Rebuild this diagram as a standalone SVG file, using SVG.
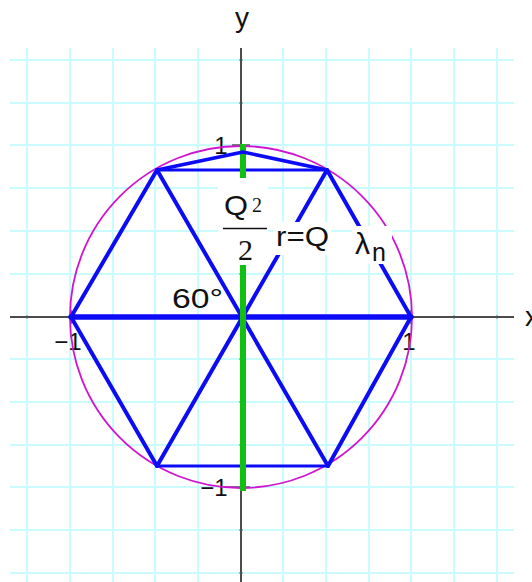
<svg xmlns="http://www.w3.org/2000/svg" width="532" height="582" viewBox="0 0 532 582">
<style>
.grid line{stroke:#c8fcff;stroke-width:2}
.axis{stroke:#111;stroke-width:1.5}
.tick{stroke:#555;stroke-width:1.5}
.hex{stroke:#0b0bf5;fill:none;stroke-linecap:round;stroke-linejoin:round}
.t{font-family:"Liberation Sans",Arial,sans-serif;fill:#111}
.s{font-family:"Liberation Serif","Times New Roman",serif;fill:#111}
.bg{fill:#fff}
</style>
<rect width="532" height="582" fill="#fff"/>
<g class="grid" id="grid">
<line x1="27" y1="48" x2="27" y2="582"/><line x1="70" y1="48" x2="70" y2="582"/><line x1="113" y1="48" x2="113" y2="582"/><line x1="155" y1="48" x2="155" y2="582"/><line x1="198" y1="48" x2="198" y2="582"/><line x1="283" y1="48" x2="283" y2="582"/><line x1="326" y1="48" x2="326" y2="582"/><line x1="369" y1="48" x2="369" y2="582"/><line x1="411" y1="48" x2="411" y2="582"/><line x1="454" y1="48" x2="454" y2="582"/><line x1="497" y1="48" x2="497" y2="582"/>
<line x1="10" y1="60" x2="514" y2="60"/><line x1="10" y1="103" x2="514" y2="103"/><line x1="10" y1="145" x2="514" y2="145"/><line x1="10" y1="188" x2="514" y2="188"/><line x1="10" y1="231" x2="514" y2="231"/><line x1="10" y1="274" x2="514" y2="274"/><line x1="10" y1="359" x2="514" y2="359"/><line x1="10" y1="402" x2="514" y2="402"/><line x1="10" y1="445" x2="514" y2="445"/><line x1="10" y1="487" x2="514" y2="487"/><line x1="10" y1="530" x2="514" y2="530"/><line x1="10" y1="573" x2="514" y2="573"/>
</g>
<g id="axes">
<line class="axis" x1="10" y1="317" x2="514" y2="317"/>
<line class="axis" x1="241" y1="48" x2="241" y2="582"/>
<g class="tick">
<line x1="27" y1="315.5" x2="27" y2="318.5"/><line x1="113" y1="315.5" x2="113" y2="318.5"/><line x1="155" y1="315.5" x2="155" y2="318.5"/><line x1="198" y1="315.5" x2="198" y2="318.5"/><line x1="283" y1="315.5" x2="283" y2="318.5"/><line x1="326" y1="315.5" x2="326" y2="318.5"/><line x1="369" y1="315.5" x2="369" y2="318.5"/><line x1="454" y1="315.5" x2="454" y2="318.5"/><line x1="497" y1="315.5" x2="497" y2="318.5"/>
<line x1="71" y1="310" x2="71" y2="324"/><line x1="411" y1="310" x2="411" y2="324"/>
<line x1="239.5" y1="60" x2="242.5" y2="60"/><line x1="239.5" y1="103" x2="242.5" y2="103"/><line x1="239.5" y1="188" x2="242.5" y2="188"/><line x1="239.5" y1="231" x2="242.5" y2="231"/><line x1="239.5" y1="274" x2="242.5" y2="274"/><line x1="239.5" y1="359" x2="242.5" y2="359"/><line x1="239.5" y1="402" x2="242.5" y2="402"/><line x1="239.5" y1="445" x2="242.5" y2="445"/><line x1="239.5" y1="530" x2="242.5" y2="530"/><line x1="239.5" y1="573" x2="242.5" y2="573"/>
<line x1="232" y1="145" x2="250" y2="145"/><line x1="224" y1="487" x2="250" y2="487"/>
</g>
<text class="t" x="242" y="27" font-size="28" text-anchor="middle">y</text>
<text class="t" x="525" y="326" font-size="28">x</text>
<text class="t" x="227.5" y="154" font-size="24" text-anchor="end">1</text>
<text class="t" x="81.5" y="350" font-size="24" text-anchor="end">−1</text>
<text class="t" x="409" y="350" font-size="24" text-anchor="middle">1</text>
<text class="t" x="227.5" y="496" font-size="24" text-anchor="end">−1</text>
</g>
<g id="circle">
<circle cx="241" cy="317" r="171" fill="none" stroke="#d015d0" stroke-width="1.8"/>
</g>
<g id="hexagon">
<line class="hex" x1="71" y1="317" x2="411" y2="317" stroke-width="5.5"/>
<line class="hex" x1="157" y1="170" x2="327" y2="170" stroke-width="3"/>
<line class="hex" x1="157" y1="466" x2="328" y2="466" stroke-width="3"/>
<polyline class="hex" points="157,170 71,317 157,466" stroke-width="4"/>
<polyline class="hex" points="327,170 411,317 328,466" stroke-width="4"/>
<line class="hex" x1="157" y1="170" x2="328" y2="466" stroke-width="4"/>
<line class="hex" x1="327" y1="170" x2="157" y2="466" stroke-width="4"/>
</g>
<g id="green-axis">
<line x1="243" y1="144" x2="243" y2="491" stroke="#12c012" stroke-width="6"/>
</g>
<g id="peak">
<polyline class="hex" points="157,170 243,152 327,170" stroke-width="3.5"/>
</g>
<g id="label-fraction">
<rect class="bg" x="218" y="178" width="50" height="87"/>
<text class="t" x="224" y="215" font-size="28" textLength="24" lengthAdjust="spacingAndGlyphs">Q</text>
<text class="s" x="252" y="212" font-size="20">2</text>
<line x1="223" y1="228.5" x2="267" y2="228.5" stroke="#111" stroke-width="1.5"/>
<text class="s" x="245.5" y="260" font-size="30" text-anchor="middle">2</text>
</g>
<g id="label-r">
<rect class="bg" x="273" y="222" width="58" height="33"/>
<text class="t" x="276" y="246" font-size="27" textLength="53" lengthAdjust="spacingAndGlyphs">r=Q</text>
</g>
<g id="label-lambda">
<rect class="bg" x="352" y="226" width="40" height="38"/>
<text class="t" x="355" y="254" font-size="30">λ</text>
<text class="t" x="372" y="261" font-size="25">n</text>
</g>
<g id="label-angle">
<text class="t" x="172" y="308" font-size="28" textLength="51" lengthAdjust="spacingAndGlyphs">60°</text>
</g>
</svg>
